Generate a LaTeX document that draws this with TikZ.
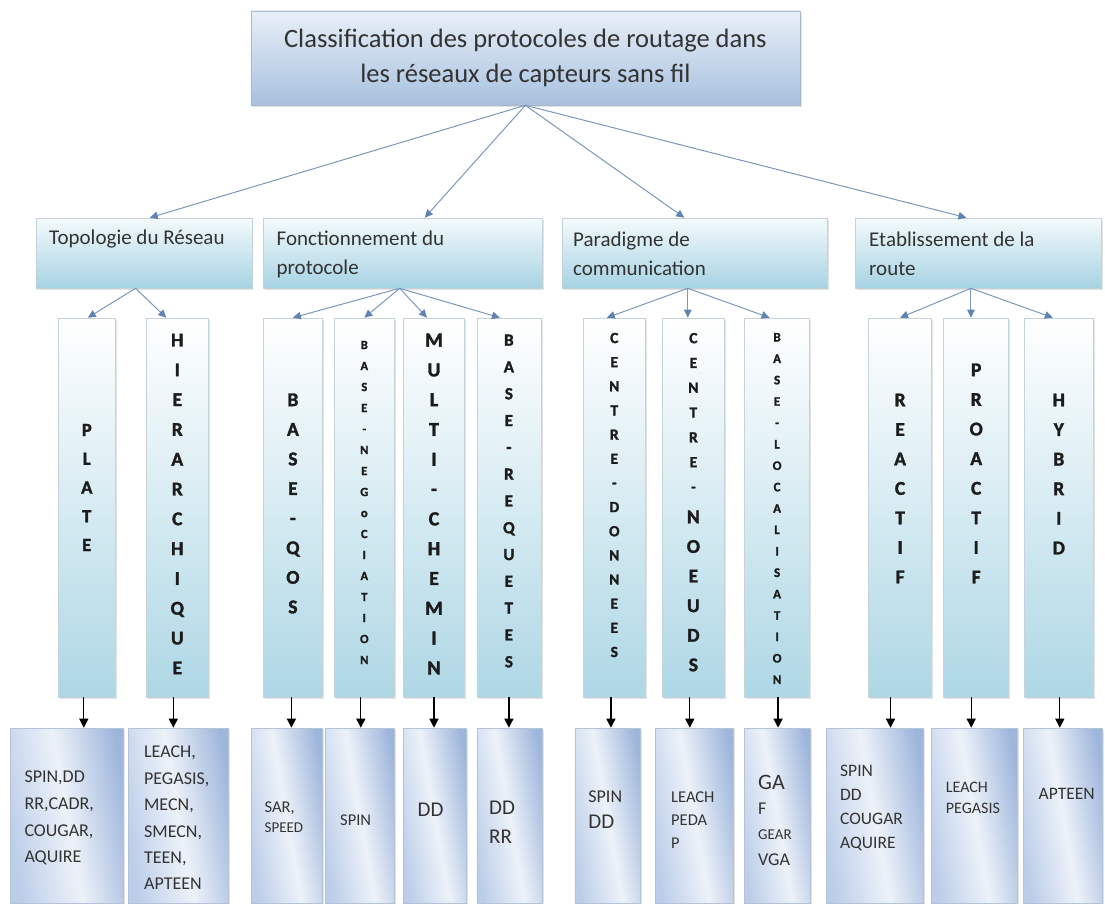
\documentclass[tikz,border=0pt]{standalone}
\usepackage{fontspec}
\setmainfont{Carlito}
\newfontfamily\colfont{Carlito}[BoldFeatures={FakeBold=1.6}]
\usetikzlibrary{arrows.meta,shadows}

\definecolor{ink}{HTML}{333333}
\definecolor{letterink}{HTML}{1C1C1C}
\definecolor{linkblue}{HTML}{7C97BD}
\definecolor{tipblue}{HTML}{5F84B4}
\definecolor{topedge}{HTML}{A9B8CB}
\definecolor{toptop}{HTML}{E8EFF8}
\definecolor{topbot}{HTML}{A8C1DF}
\definecolor{catedge}{HTML}{C3D1D9}
\definecolor{cattop}{HTML}{F4FAFC}
\definecolor{catbot}{HTML}{A7D3E3}
\definecolor{coledge}{HTML}{C6D3DA}
\definecolor{colbot}{HTML}{AED7E5}
\definecolor{leafedge}{HTML}{B5C3D6}
\definecolor{leafleft}{HTML}{BCCDE9}
\definecolor{leafmid}{HTML}{EDF2F9}
\definecolor{leafright}{HTML}{9FB6DC}

\tikzset{
  box/.style={rectangle, inner sep=0pt, line width=0.6pt,
    drop shadow={opacity=0.22, shadow xshift=1.6pt, shadow yshift=-1.6pt}},
  topbox/.style={box, draw=topedge, top color=toptop, bottom color=topbot},
  catbox/.style={box, draw=catedge, top color=cattop, bottom color=catbot},
  colbox/.style={box, draw=coledge, top color=white, bottom color=colbot},
  leafbox/.style={box, draw=leafedge, left color=leafleft, right color=leafright,
    middle color=leafmid, shading angle=100},
  link/.style={draw=linkblue, line width=1pt,
    -{Triangle[length=8pt,width=7.5pt,color=tipblue,fill=tipblue]}},
  down/.style={draw=black, line width=1.3pt, -{Triangle[length=9pt,width=9pt]}},
  cattext/.style={anchor=west, align=left, inner sep=0pt, text=ink,
    font=\fontsize{21}{29}\selectfont},
  col/.style 2 args={align=center, inner sep=0pt, text=letterink,
    font=\colfont\bfseries\fontsize{#1}{#2}\selectfont},
  leaf/.style 2 args={anchor=west, align=left, inner sep=0pt, text=ink,
    font=\fontsize{#1}{#2}\selectfont},
}

\begin{document}
\begin{tikzpicture}[x=1pt, y=-1pt]
\useasboundingbox (0,0) rectangle (1105,904);

% ---------- root ----------
\node[topbox, minimum width=549pt, minimum height=94pt, align=center, text=ink,
      font=\fontsize{26.5}{35}\selectfont] (top) at (525.4,58)
  {Classification des protocoles de routage dans\\les réseaux de capteurs sans fil};

% ---------- categories ----------
\node[catbox, minimum width=216pt,   minimum height=70pt] (cat1) at (143.8,253) {};
\node[catbox, minimum width=278.5pt, minimum height=70pt] (cat2) at (402.9,253) {};
\node[catbox, minimum width=265pt,   minimum height=70pt] (cat3) at (695.0,253) {};
\node[catbox, minimum width=246.7pt, minimum height=70pt] (cat4) at (978.4,253) {};

\node[cattext] (cat1-t) at (49,239.5)  {Topologie du Réseau};
\node[cattext] (cat2-t) at (276.5,254) {Fonctionnement du\\protocole};
\node[cattext] (cat3-t) at (573,254)   {Paradigme de\\communication};
\node[cattext] (cat4-t) at (869,254)   {Etablissement de la\\route};

% ---------- sub-classes (vertical columns) ----------
\foreach \nm/\cx/\w in {plate/86.8/56.4, hier/177.3/62.6, qos/292.9/59.3,
    neg/364.3/59.3, multi/434.0/60.7, req/508.9/64.2, cd/614.3/61.3,
    cn/693.4/61.5, bl/777.1/64.7, react/900.1/63, proact/976.2/65.1,
    hyb/1058.8/69}
  \node[colbox, minimum width=\w pt, minimum height=379pt] (\nm) at (\cx,507.5) {};

\node[col={18.5}{28.75}] (plate-t)  at (plate.center |- 0,487.5) {P\\L\\A\\T\\E};
\node[col={19.5}{29.8}]  (hier-t)   at (hier.center |- 0,504)    {H\\I\\E\\R\\A\\R\\C\\H\\I\\Q\\U\\E};
\node[col={19.5}{29.6}]  (qos-t)    at (qos.center |- 0,503.5)   {B\\A\\S\\E\\-\\Q\\O\\S};
\node[col={12.5}{21}]    (neg-t)    at (neg.center |- 0,502.5)   {B\\A\\S\\E\\-\\N\\E\\G\\o\\C\\I\\A\\T\\I\\O\\N};
\node[col={20}{29.8}]    (multi-t)  at (multi.center |- 0,504)   {M\\U\\L\\T\\I\\-\\C\\H\\E\\M\\I\\N};
\node[col={17}{26.8}]    (req-t)    at (req.center |- 0,501)     {B\\A\\S\\E\\-\\R\\E\\Q\\U\\E\\T\\E\\S};
\node[col={15.5}{24.15}] (cd-t)     at (cd.center |- 0,495)      {C\\E\\N\\T\\R\\E\\-\\D\\O\\N\\N\\E\\E\\S};
\node[col={15.5}{24.8}]  (cn-t1)    at (cn.center |- 0,412.5)    {C\\E\\N\\T\\R\\E\\-};
\node[col={19.5}{29.6}]  (cn-t2)    at (cn.center |- 0,591)      {N\\O\\E\\U\\D\\S};
\node[col={13}{21.4}]    (bl-t)     at (bl.center |- 0,508.5)    {B\\A\\S\\E\\-\\L\\O\\C\\A\\L\\I\\S\\A\\T\\I\\O\\N};
\node[col={19.5}{29.5}]  (react-t)  at (react.center |- 0,488.5) {R\\E\\A\\C\\T\\I\\F};
\node[col={19.5}{29.6}]  (proact-t) at (proact.center |- 0,473.5){P\\R\\O\\A\\C\\T\\I\\F};
\node[col={19.5}{29.6}]  (hyb-t)    at (hyb.center |- 0,474)     {H\\Y\\B\\R\\I\\D};

% ---------- protocol lists ----------
\foreach \nm/\cx/\w in {l1/67.0/112.5, l2/178.6/100, l3/286.5/71, l4/360.0/69,
    l5/434.5/63.1, l6/509.5/65.3, l7/607.6/65.5, l8/694.2/78.2, l9/777.1/66.2,
    l10/874.8/97.3, l11/974.3/85.4, l12/1062.9/78.7}
  \node[leafbox, minimum width=\w pt, minimum height=175pt] (\nm) at (\cx,815.5) {};

\node[leaf={18}{26.7}] (t1) at (24.3,818) {SPIN,DD\\RR,CADR,\\COUGAR,\\AQUIRE};
\node[leaf={18}{26.4}] (t2) at (143.9,818) {LEACH,\\PEGASIS,\\MECN,\\SMECN,\\TEEN,\\APTEEN};
\node[leaf={15}{20}]   (t3) at (264.5,817) {{\fontsize{16.5}{20}\selectfont SAR,}\\SPEED};
\node[leaf={16.5}{20}] (t4) at (340,820) {SPIN};
\node[leaf={21}{29}]   (t5) at (417.5,810) {DD};
\node[leaf={21}{29}]   (t6) at (489,822.5) {DD\\RR};
\node[leaf={18}{26}]   (t7) at (588.2,810) {SPIN\\{\fontsize{21}{26}\selectfont DD}};
\node[leaf={16.5}{23}] (t8) at (671,820) {LEACH\\PEDA\\P};
\node[leaf={18}{25.3}] (t9) at (758,820)
  {{\fontsize{22}{25.3}\selectfont GA}\\F\\{\fontsize{15}{25.3}\selectfont GEAR}\\VGA};
\node[leaf={17.5}{24}] (t10) at (840,808) {SPIN\\DD\\COUGAR\\AQUIRE};
\node[leaf={16}{21}]   (t11) at (945.7,797.5) {LEACH\\PEGASIS};
\node[leaf={17.5}{21}] (t12) at (1038.5,794) {APTEEN};

% ---------- root -> categories ----------
\coordinate (f0) at (top.south);
\draw[link] (f0) -- ([xshift=114.3pt]cat1.north west);
\draw[link] (f0) -- ([xshift=161.4pt]cat2.north west);
\draw[link] (f0) -- ([xshift=122.1pt]cat3.north west);
\draw[link] (f0) -- ([xshift=111.7pt]cat4.north west);

% ---------- categories -> sub-classes ----------
\coordinate (f1) at ([xshift=100pt]cat1.south west);
\coordinate (f2) at ([xshift=136.4pt]cat2.south west);
\coordinate (f3) at ([xshift=125.6pt]cat3.south west);
\coordinate (f4) at ([xshift=116.2pt]cat4.south west);
\draw[link] (f1) -- ([xshift=1pt]plate.north);
\draw[link] (f1) -- ([xshift=-11pt]hier.north);
\draw[link] (f2) -- (qos.north);
\draw[link] (f2) -- (neg.north);
\draw[link] (f2) -- ([xshift=-7pt]multi.north);
\draw[link] (f2) -- ([xshift=-9pt]req.north);
\draw[link] (f3) -- ([xshift=-7.5pt]cd.north);
\draw[link] (f3) -- (f3 |- cn.north);
\draw[link] (f3) -- ([xshift=-7.5pt]bl.north);
\draw[link] (f4) -- (react.north);
\draw[link] (f4) -- (f4 |- proact.north);
\draw[link] (f4) -- ([xshift=-6pt]hyb.north);

% ---------- sub-classes -> protocol lists ----------
\foreach \src/\dst/\dx in {plate/l1/-3, hier/l2/-4, qos/l3/-1.5, neg/l4/-3.5,
    multi/l5/0, req/l6/0, cd/l7/-3.4, cn/l8/-3.6, bl/l9/1, react/l10/-9.6,
    proact/l11/-5, hyb/l12/1} {
  \coordinate (\src-o) at ([xshift=\dx pt]\src.south);
  \draw[down] (\src-o) -- (\src-o |- \dst.north);
}
\end{tikzpicture}
\end{document}
